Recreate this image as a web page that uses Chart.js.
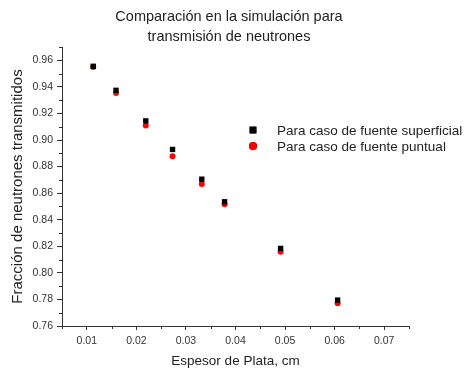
<!DOCTYPE html>
<html>
<head>
<meta charset="utf-8">
<script src="https://cdn.jsdelivr.net/npm/chart.js@4"></script>
<style>
  html, body { margin: 0; padding: 0; background: #fff; }
  #wrap { width: 464px; height: 369px; }
</style>
</head>
<body>
<div id="wrap"><canvas id="grafico" width="464" height="369"></canvas></div>
<script>
"use strict"
// datos
const espesor = [0.0113, 0.0159, 0.0219, 0.0273, 0.0332, 0.0378, 0.0491, 0.0606];
const fuenteSuperficial = [0.9555, 0.9374, 0.9144, 0.8929, 0.8705, 0.8535, 0.8184, 0.7795];
const fuentePuntual = [0.9550, 0.9354, 0.9109, 0.8878, 0.8668, 0.8517, 0.8159, 0.7771];

const ticksX = [0.01, 0.02, 0.03, 0.04, 0.05, 0.06, 0.07];
const ticksXMenor = [0.005, 0.015, 0.025, 0.035, 0.045, 0.055, 0.065, 0.075];
const ticksY = [0.76, 0.78, 0.80, 0.82, 0.84, 0.86, 0.88, 0.90, 0.92, 0.94, 0.96];
const ticksYMenor = [0.77, 0.79, 0.81, 0.83, 0.85, 0.87, 0.89, 0.91, 0.93, 0.95, 0.97];

const nombres = ["Para caso de fuente superficial", "Para caso de fuente puntual"];
const titulo = ["Comparación en la simulación para", "transmisión de neutrones"];

const fuente = "'Liberation Sans', Arial, sans-serif";
const colorEje = "#333";

function puntos(valores) {
    return espesor.map((x, i) => ({ x: x, y: valores[i] }));
}

// ticks menores (mas cortos) dibujados con las escalas del grafico
const ticksMenores = {
    id: "ticksMenores",
    afterDraw(chart) {
        const ctx = chart.ctx;
        const sx = chart.scales.x, sy = chart.scales.y;
        ctx.save();
        ctx.strokeStyle = colorEje;
        ctx.lineWidth = 1;
        ctx.beginPath();
        ticksXMenor.forEach(v => {
            const px = Math.round(sx.getPixelForValue(v)) + 0.5;
            ctx.moveTo(px, sx.top);
            ctx.lineTo(px, sx.top + 3);
        });
        ticksYMenor.forEach(v => {
            const py = Math.round(sy.getPixelForValue(v)) + 0.5;
            ctx.moveTo(sy.right, py);
            ctx.lineTo(sy.right - 3, py);
        });
        ctx.stroke();
        ctx.restore();
    }
};

// leyenda dentro del area del grafico
const leyenda = {
    id: "leyenda",
    afterDraw(chart) {
        const ctx = chart.ctx;
        const area = chart.chartArea;
        const x0 = area.left + 191;
        const y0 = area.top + 83;
        ctx.save();
        ctx.font = "13.5px " + fuente;
        ctx.textBaseline = "middle";
        chart.data.datasets.forEach((ds, i) => {
            const y = y0 + i * 16;
            Chart.helpers.drawPoint(ctx, {
                pointStyle: ds.pointStyle,
                radius: ds.pointStyle === "rect" ? 4.8 : 4,
                borderWidth: 0,
                rotation: 0
            }, x0, y);
            ctx.fillStyle = ds.backgroundColor;
            ctx.fill();
            ctx.fillStyle = "#222";
            ctx.fillText(ds.label, x0 + 24, y + 1);
        });
        ctx.restore();
    }
};

const ctx = document.getElementById("grafico").getContext("2d");

const config = {
    type: "scatter",
    data: {
        datasets: [{
            label: nombres[0],
            data: puntos(fuenteSuperficial),
            pointStyle: "rect",
            pointRadius: 3.8,
            backgroundColor: "#000",
            borderColor: "#000",
            borderWidth: 0
        }, {
            label: nombres[1],
            data: puntos(fuentePuntual),
            pointStyle: "circle",
            pointRadius: 3,
            backgroundColor: "#ff0000",
            borderColor: "#ff0000",
            borderWidth: 0
        }]
    },
    options: {
        responsive: false,
        animation: false,
        devicePixelRatio: 1,
        layout: { padding: { left: 0, right: 6, top: 0, bottom: 0 } },
        plugins: {
            legend: { display: false },
            tooltip: { enabled: false },
            title: {
                display: true,
                text: titulo,
                color: "#222",
                font: { family: fuente, size: 14.5, weight: "normal", lineHeight: 1.38 },
                padding: { top: 7, bottom: 0 }
            }
        },
        scales: {
            x: {
                type: "linear",
                min: 0.005,
                max: 0.075,
                afterBuildTicks(scale) {
                    scale.ticks = ticksX.map(v => ({ value: v }));
                },
                afterFit(scale) {
                    scale.height = 43;
                },
                grid: {
                    drawOnChartArea: false,
                    drawTicks: true,
                    tickLength: 4,
                    tickColor: colorEje
                },
                border: { color: colorEje, width: 1 },
                ticks: {
                    color: "#333",
                    font: { family: fuente, size: 10.5 },
                    padding: 5,
                    maxRotation: 0,
                    autoSkip: false,
                    callback: v => v.toFixed(2)
                },
                title: {
                    display: true,
                    text: "Espesor de Plata, cm",
                    color: "#222",
                    font: { family: fuente, size: 13.5 },
                    padding: { top: 4, bottom: 0 }
                }
            },
            y: {
                type: "linear",
                min: 0.76,
                max: 0.97,
                afterBuildTicks(scale) {
                    scale.ticks = ticksY.map(v => ({ value: v }));
                },
                afterFit(scale) {
                    scale.width = 62;
                },
                grid: {
                    drawOnChartArea: false,
                    drawTicks: true,
                    tickLength: 5,
                    tickColor: colorEje
                },
                border: { color: colorEje, width: 1 },
                ticks: {
                    color: "#333",
                    font: { family: fuente, size: 10.5 },
                    padding: 4,
                    autoSkip: false,
                    callback: v => v.toFixed(2)
                },
                title: {
                    display: true,
                    text: "Fracción de neutrones transmitidos",
                    color: "#222",
                    font: { family: fuente, size: 15 },
                    padding: { top: 9, bottom: 2 }
                }
            },
            derecha: {
                type: "linear",
                position: "right",
                display: true,
                grid: { display: false, drawTicks: false },
                border: { display: false },
                ticks: { display: false },
                afterFit(scale) {
                    scale.width = 49;
                }
            }
        }
    },
    plugins: [ticksMenores, leyenda]
};

const grafico = new Chart(ctx, config);
</script>
</body>
</html>
